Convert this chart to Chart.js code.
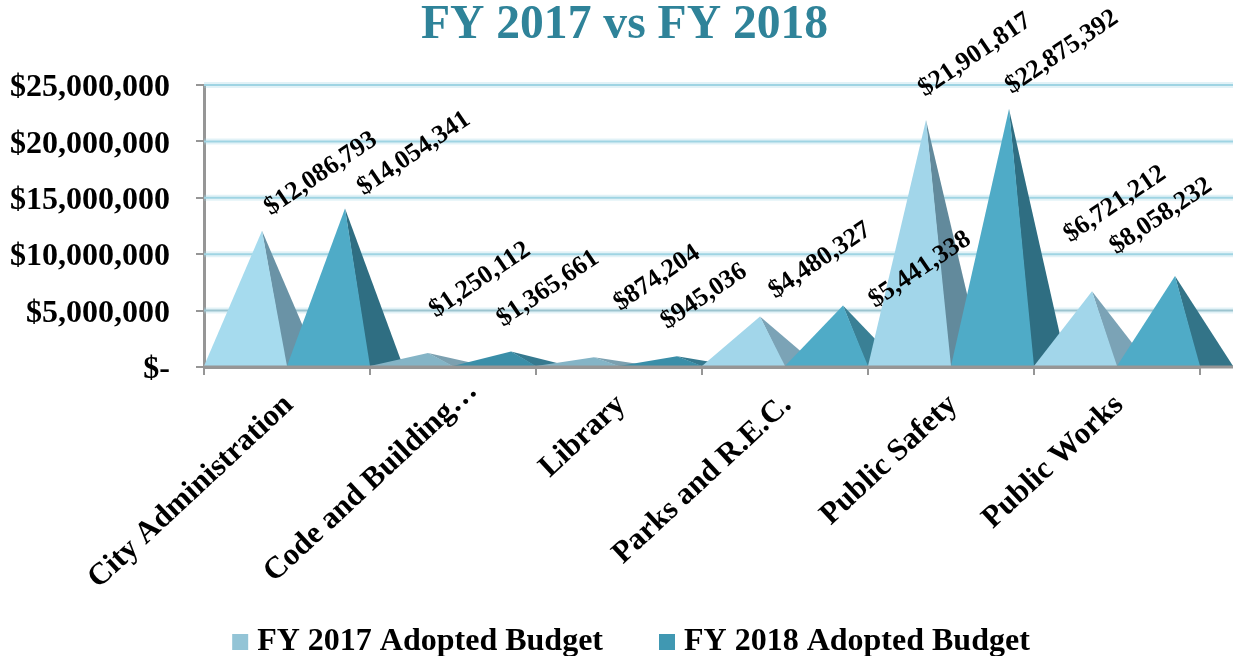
<!DOCTYPE html>
<html>
<head>
<meta charset="utf-8">
<style>
  html, body { margin: 0; background: #fff; }
  #wrap { width: 1233px; height: 656px; }
</style>
<script src="https://cdn.jsdelivr.net/npm/chart.js@4"></script>
</head>
<body>
<div id="wrap"><canvas id="chart"></canvas></div>
<script>
const categories = ["City Administration", "Code and Building…", "Library", "Parks and R.E.C.", "Public Safety", "Public Works"];
const fy2017 = [12086793, 1250112, 874204, 4480327, 21901817, 6721212];
const fy2018 = [14054341, 1365661, 945036, 5441338, 22875392, 8058232];
const yTickLabels = ["$-", "$5,000,000", "$10,000,000", "$15,000,000", "$20,000,000", "$25,000,000"];

// colours per category, the flat pyramids read duller in the picture
const front2017 = ["#a6dbee", "#84b4c6", "#84b4c6", "#a2d6ea", "#a2d6ea", "#a2d6ea"];
const side2017 = ["#6a93a6", "#7ba0b0", "#7ba0b0", "#7ba3b6", "#628a9c", "#7ba3b6"];
const front2018 = ["#4fabc7", "#3a8ea8", "#3a8ea8", "#4fabc7", "#4fabc7", "#4fabc7"];
const side2018 = ["#2f6e82", "#35798f", "#35798f", "#3a8095", "#2f6e82", "#337488"];
const legendColors = ["#93c4d6", "#4098b2"];

// hand placed value labels, offset from each apex
const shift2017 = [[59, -57], [52, -73], [63, -79], [60, -56], [49, -65], [23, -87]];
const shift2018 = [[69, -55], [37, -63], [27, -60], [77, -36], [53, -57], [-14, -60]];

const serif = "'Liberation Serif', serif";
const depth = 33;

function money(v) {
  return "$" + v.toLocaleString("en-US");
}

const pyramids = {
  id: "pyramids",
  afterLayout(chart) {
    // nudges the library has no option for
    chart.titleBlock.left += 8;
    chart.titleBlock.right += 8;
    chart.legend.left += 18;
    chart.legend.right += 18;
    chart.legend.top += 12;
    chart.legend.bottom += 12;
    chart.scales.y.getLabelItems().forEach((item) => {
      item.options.translation[1] += 3;
    });
    let code = chart.scales.x.getLabelItems()[1];
    code.options.translation[0] += 18;
    code.options.translation[1] -= 14;
  },
  beforeDatasetsDraw(chart) {
    const { ctx, chartArea, scales } = chart;
    ctx.save();
    scales.y.ticks.forEach((t, i) => {
      if (i == 0) return;
      let y = scales.y.getPixelForTick(i);
      ctx.strokeStyle = "rgba(160,213,228,0.3)";
      ctx.lineWidth = 6;
      ctx.beginPath();
      ctx.moveTo(chartArea.left, y);
      ctx.lineTo(chart.width, y);
      ctx.stroke();
      ctx.strokeStyle = i == 1 ? "#9cc4cf" : "#9fd4e3";
      ctx.lineWidth = 2;
      ctx.beginPath();
      ctx.moveTo(chartArea.left, y);
      ctx.lineTo(chart.width, y);
      ctx.stroke();
    });

    let m17 = chart.getDatasetMeta(0).data;
    let m18 = chart.getDatasetMeta(1).data;
    for (let i = 0; i < categories.length; i++) {
      drawPyramid(ctx, m17[i], front2017[i], side2017[i]);
      drawPyramid(ctx, m18[i], front2018[i], side2018[i]);
    }

    let y0 = scales.y.getPixelForValue(0);
    ctx.strokeStyle = "#969696";
    ctx.lineWidth = 3;
    ctx.beginPath();
    ctx.moveTo(chartArea.left, y0);
    ctx.lineTo(chart.width, y0);
    ctx.stroke();
    ctx.restore();
  },
  afterDatasetsDraw(chart) {
    const { ctx } = chart;
    let m17 = chart.getDatasetMeta(0).data;
    let m18 = chart.getDatasetMeta(1).data;
    ctx.save();
    for (let i = 0; i < categories.length; i++) {
      drawValue(ctx, m17[i], fy2017[i], shift2017[i]);
      drawValue(ctx, m18[i], fy2018[i], shift2018[i]);
    }
    ctx.restore();
  },
};

function apexX(bar) {
  return bar.x - bar.width / 2 + (bar.width + depth) / 2;
}

function drawPyramid(ctx, bar, front, side) {
  let left = bar.x - bar.width / 2;
  let right = bar.x + bar.width / 2;
  let ax = apexX(bar);

  ctx.fillStyle = side;
  ctx.beginPath();
  ctx.moveTo(right - 1, bar.base);
  ctx.lineTo(ax, bar.y);
  ctx.lineTo(right + depth, bar.base);
  ctx.closePath();
  ctx.fill();

  ctx.fillStyle = front;
  ctx.beginPath();
  ctx.moveTo(left, bar.base);
  ctx.lineTo(ax, bar.y);
  ctx.lineTo(right, bar.base);
  ctx.closePath();
  ctx.fill();
}

function drawValue(ctx, bar, value, shift) {
  ctx.save();
  ctx.translate(apexX(bar) + shift[0], bar.y + shift[1]);
  ctx.rotate((-34 * Math.PI) / 180);
  ctx.font = "bold 26px " + serif;
  ctx.fillStyle = "#000";
  ctx.textAlign = "center";
  ctx.textBaseline = "middle";
  ctx.fillText(money(value), 0, 0);
  ctx.restore();
}

new Chart(document.getElementById("chart"), {
  type: "bar",
  data: {
    labels: categories,
    datasets: [
      // bars stay invisible, the plugin draws a pyramid from each bar's geometry
      { label: "FY 2017 Adopted Budget", data: fy2017, backgroundColor: "transparent", yAxisID: "y" },
      { label: "FY 2018 Adopted Budget", data: fy2018, backgroundColor: "transparent", yAxisID: "y" },
    ],
  },
  options: {
    responsive: true,
    maintainAspectRatio: false,
    animation: false,
    datasets: { bar: { categoryPercentage: 1, barPercentage: 1, borderWidth: 0, hoverBackgroundColor: "transparent" } },
    plugins: {
      tooltip: { enabled: false },
      title: {
        display: true,
        text: "FY 2017 vs FY 2018",
        color: "#2f8399",
        font: { family: serif, size: 47.6, weight: "bold", lineHeight: 1 },
        padding: { top: 2, bottom: 35.4 },
      },
      legend: {
        position: "bottom",
        labels: {
          color: "#000",
          font: { family: serif, size: 32, weight: "bold", lineHeight: 1 },
          usePointStyle: true,
          pointStyle: "rect",
          boxWidth: 2,
          boxHeight: 16,
          padding: 7,
          generateLabels(chart) {
            return chart.data.datasets.map((d, i) => ({
              // trailing spaces keep the gap between the two legend entries
              text: i == 0 ? d.label + "       " : d.label,
              fillStyle: legendColors[i],
              strokeStyle: legendColors[i],
              lineWidth: 0,
              pointStyle: "rect",
              datasetIndex: i,
            }));
          },
        },
      },
    },
    scales: {
      x: {
        grid: { drawOnChartArea: false, color: "#969696", lineWidth: 2, tickLength: 8 },
        border: { color: "#969696", width: 3 },
        afterFit(scale) { scale.height = 240; },
        ticks: {
          color: "#000",
          font: { family: serif, size: 31, weight: "bold" },
          autoSkip: false,
          minRotation: 43,
          maxRotation: 43,
          padding: 12,
          labelOffset: 2,
        },
      },
      y: {
        min: 0,
        max: 25000000,
        grid: { drawOnChartArea: false, tickColor: "#969696", lineWidth: 2, tickLength: 8 },
        border: { color: "#969696", width: 3 },
        afterFit(scale) { scale.width = 204; },
        ticks: {
          stepSize: 5000000,
          color: "#000",
          font: { family: serif, size: 32, weight: "bold" },
          padding: 26,
          callback: (v, i) => yTickLabels[i],
        },
      },
      // empty axis, only keeps room on the right for the last pyramid
      spacer: {
        position: "right",
        grid: { display: false },
        border: { display: false },
        ticks: { display: false },
        afterFit(scale) { scale.width = depth; },
      },
    },
  },
  plugins: [pyramids],
});
</script>
</body>
</html>
